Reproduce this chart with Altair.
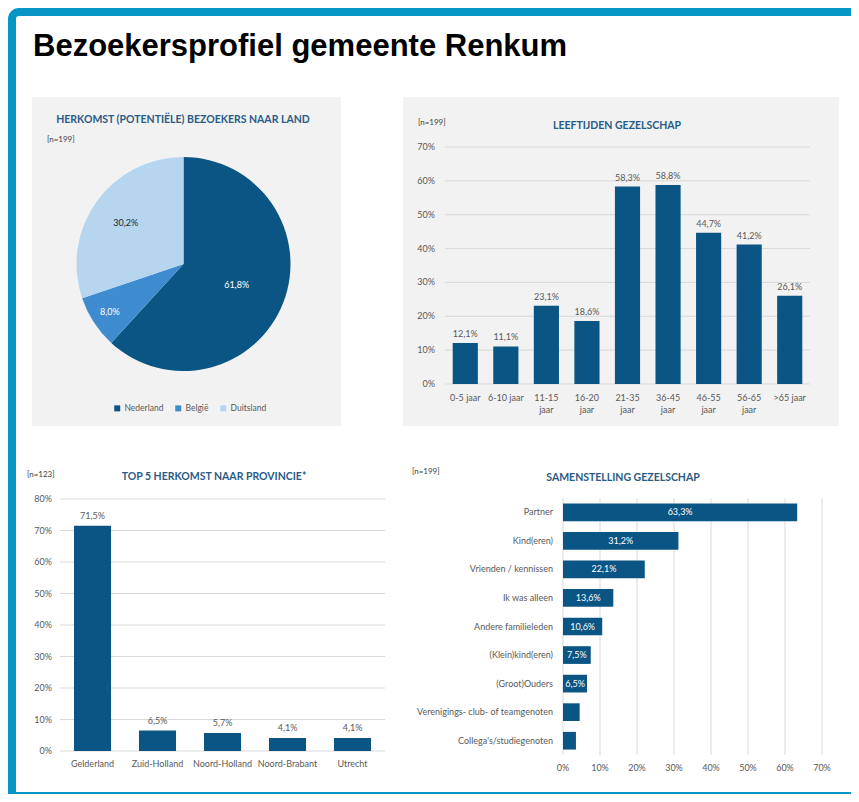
import math
import altair as alt
import pandas as pd

# ---------------- data ----------------
land_names = ["Nederland", "België", "Duitsland"]
land_values = [61.8, 8.0, 30.2]

age_groups = ["0-5 jaar", "6-10 jaar", "11-15 jaar", "16-20 jaar", "21-35 jaar",
              "36-45 jaar", "46-55 jaar", "56-65 jaar", ">65 jaar"]
age_values = [12.1, 11.1, 23.1, 18.6, 58.3, 58.8, 44.7, 41.2, 26.1]
age_ticks = [0, 10, 20, 30, 40, 50, 60, 70]

provinces = ["Gelderland", "Zuid-Holland", "Noord-Holland", "Noord-Brabant", "Utrecht"]
province_values = [71.5, 6.5, 5.7, 4.1, 4.1]
province_ticks = [0, 10, 20, 30, 40, 50, 60, 70, 80]

company = ["Partner", "Kind(eren)", "Vrienden / kennissen", "Ik was alleen",
           "Andere familieleden", "(Klein)kind(eren)", "(Groot)Ouders",
           "Verenigings- club- of teamgenoten", "Collega's/studiegenoten"]
company_values = [63.3, 31.2, 22.1, 13.6, 10.6, 7.5, 6.5, 4.5, 3.5]
company_ticks = [0, 10, 20, 30, 40, 50, 60, 70]

# ---------------- style ----------------
W, H = 843, 786
FONT = "Lato"
DARK = "#0b5584"
MID = "#3f8bd0"
LIGHT = "#b6d5ef"
GRID = "#d9d9d9"
TXT = "#595959"
HEAD = "#2a5b86"
PANEL = "#f2f2f2"
FRAME = "#0796c5"
FS = 9
FMT = "replace(format(datum.v, '.1f'), '.', ',') + '%'"

one = pd.DataFrame({"k": [0]})


def box(x, y, x2, y2, **kw):
    return alt.Chart(one).mark_rect(**kw).encode(
        x=alt.value(x), y=alt.value(y), x2=alt.value(x2), y2=alt.value(y2))


def label(text, x, y, **kw):
    return alt.Chart(pd.DataFrame({"t": [text]})).mark_text(**kw).encode(
        text="t:N", x=alt.value(x), y=alt.value(y))


layers = []

# frame
layers.append(box(4, 4, W + 40, H + 40, filled=False, stroke=FRAME, strokeWidth=8, cornerRadius=7))
layers.append(box(0, H - 2, W, H, color=FRAME))
layers.append(label("Bezoekersprofiel gemeente Renkum", 25, 48, align="left", baseline="alphabetic",
                    font="Liberation Sans", fontSize=31, fontWeight="bold", color="#000000"))

# ---------------- panel 1: pie ----------------
layers.append(box(24, 89, 333, 418, color=PANEL))
layers.append(label("HERKOMST (POTENTIËLE) BEZOEKERS NAAR LAND", 175, 112, align="center", baseline="middle",
                    font=FONT, fontSize=10.5, fontWeight="bold", color=HEAD))
layers.append(label("[n=199]", 39, 132, align="left", baseline="middle", font=FONT, fontSize=8, color="#404040"))

pie_df = pd.DataFrame({"land": land_names, "v": land_values, "i": list(range(len(land_names)))})
layers.append(alt.Chart(pie_df).mark_arc(outerRadius=107).encode(
    theta=alt.Theta("v:Q", stack=True),
    order=alt.Order("i:Q"),
    x=alt.value(175.5), y=alt.value(256),
    color=alt.Color("land:N", scale=alt.Scale(domain=land_names, range=[DARK, MID, LIGHT]),
                    legend=alt.Legend(title=None, orient="none", legendX=105, legendY=396,
                                      direction="horizontal", symbolType="square", symbolSize=36,
                                      symbolStrokeWidth=0, labelFontSize=8.5, labelColor=TXT,
                                      labelFont=FONT, columnPadding=10, padding=0, labelOffset=3))))
layers.append(alt.Chart(pie_df)
              .transform_window(cum="sum(v)", sort=[alt.SortField("i")], frame=[None, 0])
              .transform_calculate(mid="datum.cum - datum.v / 2", lab=FMT,
                                   r="datum.v > 50 ? 57 : (datum.v < 10 ? 88 : 71)")
              .mark_text(font=FONT, fontSize=FS).encode(
    theta=alt.Theta("mid:Q", stack=None,
                    scale=alt.Scale(domain=[0, sum(land_values)], range=[0, 2 * math.pi])),
    radius=alt.Radius("r:Q", scale=None),
    x=alt.value(175.5), y=alt.value(256),
    text="lab:N",
    color=alt.condition("datum.land == 'Duitsland'", alt.value("#262626"), alt.value("#ffffff"))))

# ---------------- panel 2: ages ----------------
layers.append(box(395, 89, 831, 418, color=PANEL))
layers.append(label("[n=199]", 410, 115, align="left", baseline="middle", font=FONT, fontSize=8, color="#404040"))
layers.append(label("LEEFTIJDEN GEZELSCHAP", 609, 118, align="center", baseline="middle",
                    font=FONT, fontSize=10.5, fontWeight="bold", color=HEAD))

y2s = alt.Scale(domain=[0, 70], range=[376, 139], nice=False)
x2s = alt.Scale(domain=age_groups, range=[437, 802], paddingInner=0.38, paddingOuter=0.19)
age_df = pd.DataFrame({"g": age_groups, "v": age_values})
t2 = pd.DataFrame({"t": age_ticks})
layers.append(alt.Chart(t2).mark_rule(color=GRID, strokeWidth=1).encode(
    y=alt.Y("t:Q", scale=y2s, axis=None), x=alt.value(437), x2=alt.value(802)))
layers.append(alt.Chart(t2).mark_text(align="right", baseline="middle", font=FONT, fontSize=FS, color=TXT)
              .transform_calculate(lab="datum.t + '%'").encode(
    y=alt.Y("t:Q", scale=y2s, axis=None), x=alt.value(427), text="lab:N"))
layers.append(alt.Chart(age_df).mark_bar(color=DARK).encode(
    x=alt.X("g:N", scale=x2s, axis=None), y=alt.Y("v:Q", scale=y2s, axis=None)))
layers.append(alt.Chart(age_df).mark_text(baseline="bottom", dy=-4, font=FONT, fontSize=FS, color=TXT)
              .transform_calculate(lab=FMT).encode(
    x=alt.X("g:N", scale=x2s, axis=None), y=alt.Y("v:Q", scale=y2s, axis=None), text="lab:N"))
layers.append(alt.Chart(age_df).mark_text(baseline="top", lineHeight=12, font=FONT, fontSize=FS, color=TXT)
              .transform_calculate(lab="length(datum.g) >= 10 ? split(datum.g, ' ') : datum.g").encode(
    x=alt.X("g:N", scale=x2s, axis=None), y=alt.value(386), text="lab:N"))

# ---------------- panel 3: provinces ----------------
layers.append(label("[n=123]", 19, 467, align="left", baseline="middle", font=FONT, fontSize=8, color="#404040"))
layers.append(label("TOP 5 HERKOMST NAAR PROVINCIE*", 206, 469, align="center", baseline="middle",
                    font=FONT, fontSize=10.5, fontWeight="bold", color=HEAD))
y3s = alt.Scale(domain=[0, 80], range=[743, 491], nice=False)
x3s = alt.Scale(domain=provinces, range=[52, 377], paddingInner=0.43, paddingOuter=0.215)
prov_df = pd.DataFrame({"p": provinces, "v": province_values})
t3 = pd.DataFrame({"t": province_ticks})
layers.append(alt.Chart(t3).mark_rule(color=GRID, strokeWidth=1).encode(
    y=alt.Y("t:Q", scale=y3s, axis=None), x=alt.value(52), x2=alt.value(377)))
layers.append(alt.Chart(t3).mark_text(align="right", baseline="middle", font=FONT, fontSize=FS, color=TXT)
              .transform_calculate(lab="datum.t + '%'").encode(
    y=alt.Y("t:Q", scale=y3s, axis=None), x=alt.value(44), text="lab:N"))
layers.append(alt.Chart(prov_df).mark_bar(color=DARK).encode(
    x=alt.X("p:N", scale=x3s, axis=None), y=alt.Y("v:Q", scale=y3s, axis=None)))
layers.append(alt.Chart(prov_df).mark_text(baseline="bottom", dy=-5, font=FONT, fontSize=FS, color=TXT)
              .transform_calculate(lab=FMT).encode(
    x=alt.X("p:N", scale=x3s, axis=None), y=alt.Y("v:Q", scale=y3s, axis=None), text="lab:N"))
layers.append(alt.Chart(prov_df).mark_text(baseline="middle", font=FONT, fontSize=FS, color=TXT).encode(
    x=alt.X("p:N", scale=x3s, axis=None), y=alt.value(756), text="p:N"))

# ---------------- panel 4: company ----------------
layers.append(label("[n=199]", 404, 464, align="left", baseline="middle", font=FONT, fontSize=8, color="#404040"))
layers.append(label("SAMENSTELLING GEZELSCHAP", 615, 470, align="center", baseline="middle",
                    font=FONT, fontSize=10.5, fontWeight="bold", color=HEAD))
x4s = alt.Scale(domain=[0, 70], range=[555, 814], nice=False)
y4s = alt.Scale(domain=company, range=[490, 747], paddingInner=0.38, paddingOuter=0.19)
comp_df = pd.DataFrame({"c": company, "v": company_values})
t4 = pd.DataFrame({"t": company_ticks})
layers.append(alt.Chart(t4).mark_rule(color=GRID, strokeWidth=1).encode(
    x=alt.X("t:Q", scale=x4s, axis=None), y=alt.value(490), y2=alt.value(747)))
layers.append(alt.Chart(t4).mark_text(align="center", baseline="middle", font=FONT, fontSize=FS, color=TXT)
              .transform_calculate(lab="datum.t + '%'").encode(
    x=alt.X("t:Q", scale=x4s, axis=None), y=alt.value(760), text="lab:N"))
layers.append(alt.Chart(comp_df).mark_bar(color=DARK).encode(
    y=alt.Y("c:N", scale=y4s, axis=None), x=alt.X("v:Q", scale=x4s, axis=None)))
layers.append(alt.Chart(comp_df).mark_text(align="center", baseline="middle", font=FONT, fontSize=FS, color="#ffffff")
              .transform_filter("datum.v >= 5")
              .transform_calculate(lab=FMT, half="datum.v / 2").encode(
    y=alt.Y("c:N", scale=y4s, axis=None), x=alt.X("half:Q", scale=x4s, axis=None), text="lab:N"))
layers.append(alt.Chart(comp_df).mark_text(align="right", baseline="middle", font=FONT, fontSize=FS, color=TXT).encode(
    y=alt.Y("c:N", scale=y4s, axis=None), x=alt.value(545), text="c:N"))

chart = alt.layer(*layers).resolve_scale(
    x="independent", y="independent", theta="independent", radius="independent", color="independent"
).properties(width=W, height=H, padding=0, autosize="none", background="#ffffff"
).configure_view(stroke=None)

chart.save("out.html", embed_options={"renderer": "svg", "actions": False})
